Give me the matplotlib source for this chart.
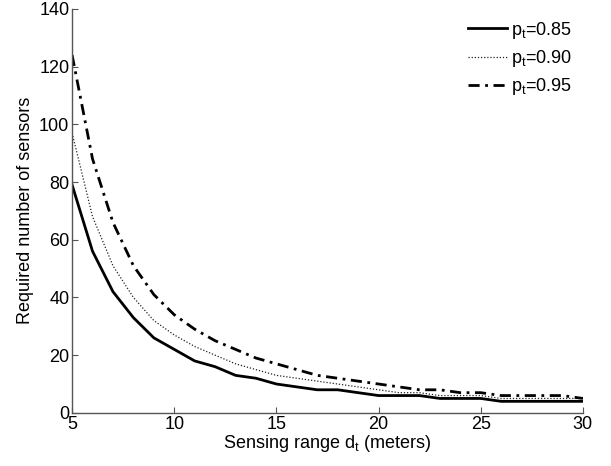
import matplotlib
matplotlib.use("Agg")
import matplotlib.pyplot as plt

plt.rcParams['font.family'] = ['Liberation Sans', 'DejaVu Sans']
plt.rcParams['mathtext.default'] = 'regular'

# sensing range (m)
d_t = list(range(5, 31))

# required number of sensors for each target probability
n_085 = [79, 56, 42, 33, 26, 22, 18, 16, 13, 12, 10, 9, 8, 8, 7, 6, 6, 6, 5, 5, 5, 4, 4, 4, 4, 4]
n_090 = [97, 68, 51, 40, 32, 27, 23, 20, 17, 15, 13, 12, 11, 10, 9, 8, 7, 7, 6, 6, 6, 5, 5, 5, 5, 5]
n_095 = [124, 88, 66, 51, 41, 34, 29, 25, 22, 19, 17, 15, 13, 12, 11, 10, 9, 8, 8, 7, 7, 6, 6, 6, 6, 5]

labels = ['$p_t$=0.85', '$p_t$=0.90', '$p_t$=0.95']

fig = plt.figure(figsize=(6.11, 4.66), dpi=100)
ax = fig.add_axes([0.118, 0.114, 0.836, 0.867])

ax.plot(d_t, n_085, color='black', lw=2.0, ls='-', label=labels[0])
ax.plot(d_t, n_090, color='#222222', lw=0.9, ls=(0, (1, 1.5)), label=labels[1])
ax.plot(d_t, n_095, color='black', lw=2.0, ls=(0, (4, 2, 1, 2)), label=labels[2])

ax.set_xlim(5, 30)
ax.set_ylim(0, 140)
ax.set_xticks([5, 10, 15, 20, 25, 30])
ax.set_yticks(range(0, 141, 20))

for s in ['top', 'right']:
    ax.spines[s].set_visible(False)
for s in ['left', 'bottom']:
    ax.spines[s].set_color('#555555')
    ax.spines[s].set_linewidth(1.0)
ax.tick_params(direction='in', length=4, color='#555555', labelsize=13, pad=2)

ax.set_xlabel('Sensing range d$_t$ (meters)', fontsize=13, labelpad=0)
ax.set_ylabel('Required number of sensors', fontsize=13, labelpad=4)

ax.legend(loc='upper right', frameon=False, fontsize=13, handlelength=2.2,
          handletextpad=0.2, labelspacing=0.4, borderaxespad=0.2)

fig.savefig('out.png', dpi=100)
